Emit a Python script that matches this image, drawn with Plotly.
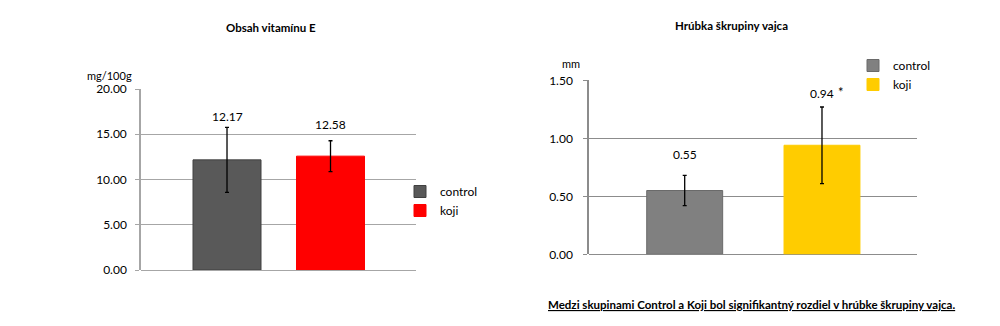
import plotly.graph_objects as go

# ---- data ----
groups = ["control", "koji"]
vitE_mean = [12.17, 12.58]
vitE_err = [3.6, 1.7]
shell_mean = [0.55, 0.94]
shell_err = [0.13, 0.33]
vitE_ticks = [0, 5, 10, 15, 20]
shell_ticks = [0, 0.5, 1.0, 1.5]

FONT = "Lato"
left_colors = ["#595959", "#FF0000"]
right_colors = ["#808080", "#FFCC00"]

fig = go.Figure()

for i, g in enumerate(groups):
    fig.add_trace(go.Bar(
        x=[i], y=[vitE_mean[i]], name=g, width=0.657,
        marker=dict(color=left_colors[i], line=dict(color="#404040" if i == 0 else left_colors[i], width=1)),
        error_y=dict(type="data", array=[vitE_err[i]], color="#000000", thickness=1.3, width=2),
        xaxis="x", yaxis="y", legend="legend",
    ))
for i, g in enumerate(groups):
    fig.add_trace(go.Bar(
        x=[i], y=[shell_mean[i]], name=g, width=0.553,
        marker=dict(color=right_colors[i], line=dict(color="#6a6a6a" if i == 0 else right_colors[i], width=1)),
        error_y=dict(type="data", array=[shell_err[i]], color="#000000", thickness=1.3, width=2),
        xaxis="x2", yaxis="y2", legend="legend2",
    ))

left_shift = [1, 7]
right_shift = [11, 4]
ann = []
for i in range(2):
    ann.append(dict(x=i, y=vitE_mean[i] + vitE_err[i], xref="x", yref="y",
                    text=f"{vitE_mean[i]:.2f}", showarrow=False, yshift=left_shift[i],
                    xanchor="center", yanchor="bottom",
                    font=dict(family=FONT, size=12, color="#000")))
    ann.append(dict(x=i, y=shell_mean[i] + shell_err[i], xref="x2", yref="y2",
                    text=f"{shell_mean[i]:.2f}", showarrow=False, yshift=right_shift[i],
                    xanchor="center", yanchor="bottom",
                    font=dict(family=FONT, size=12, color="#000")))
ann.append(dict(x=1, y=shell_mean[1] + shell_err[1], xref="x2", yref="y2", text="*",
                showarrow=False, xshift=19, yshift=5, xanchor="center", yanchor="bottom",
                font=dict(family=FONT, size=13, color="#000")))


def paper_text(xp, yp, text, size=12):
    return dict(x=xp / 1000, y=1 - yp / 326, xref="paper", yref="paper", text=text,
                showarrow=False, xanchor="center", yanchor="middle",
                font=dict(family=FONT, size=size, color="#000"))


ann += [
    paper_text(271, 28, "<b>Obsah vitamínu E</b>", 11.5),
    paper_text(731, 25, "<b>Hrúbka škrupiny vajca</b>", 11.5),
    paper_text(109, 75, "mg/100g", 11),
    paper_text(571, 63, "mm", 11),
    paper_text(751, 304, "<b><u>Medzi skupinami Control a Koji bol signifikantný rozdiel v hrúbke škrupiny vajca.</u></b>", 11.5),
]

fig.update_layout(
    width=1000, height=326, margin=dict(l=0, r=0, t=0, b=0, autoexpand=False),
    paper_bgcolor="white", plot_bgcolor="white",
    showlegend=True, annotations=ann, barmode="overlay",
    font=dict(family=FONT, size=12, color="#000"),
    xaxis=dict(domain=[0.141, 0.416], range=[-0.831, 1.826], showticklabels=False, showgrid=False,
               zeroline=False, showline=False, fixedrange=True),
    yaxis=dict(domain=[1 - 270 / 326, 1 - 89 / 326], range=[0, 20], tickvals=vitE_ticks,
               tickformat=".2f", showgrid=True, gridcolor="#a6a6a6", gridwidth=1.3,
               zeroline=True, zerolinecolor="#a6a6a6", zerolinewidth=1.3,
               showline=True, linecolor="#a6a6a6", linewidth=1.5,
               ticks="outside", ticklen=4, tickcolor="#a6a6a6", ticklabelstandoff=6,
               tickfont=dict(family=FONT, size=12, color="#000")),
    xaxis2=dict(domain=[0.589, 0.917], range=[-0.697, 1.692], showticklabels=False, showgrid=False,
                zeroline=False, showline=False, fixedrange=True, anchor="y2"),
    yaxis2=dict(domain=[1 - 254.3 / 326, 1 - 80.3 / 326], range=[0, 1.5], tickvals=shell_ticks,
                tickformat=".2f", showgrid=True, gridcolor="#8c8c8c", gridwidth=1,
                zeroline=True, zerolinecolor="#8c8c8c", zerolinewidth=1,
                showline=True, linecolor="#8c8c8c", linewidth=1.5, anchor="x2",
                ticks="outside", ticklen=4, tickcolor="#8c8c8c", ticklabelstandoff=8,
                tickfont=dict(family=FONT, size=12, color="#000")),
    legend=dict(x=0.400, y=1 - 177 / 326, xanchor="left", yanchor="top", bgcolor="rgba(0,0,0,0)",
                font=dict(family=FONT, size=12, color="#000"), itemwidth=30, tracegroupgap=0),
    legend2=dict(x=0.853, y=1 - 51 / 326, xanchor="left", yanchor="top", bgcolor="rgba(0,0,0,0)",
                 font=dict(family=FONT, size=12, color="#000"), itemwidth=30, tracegroupgap=0),
)

fig.write_html("out.html")
